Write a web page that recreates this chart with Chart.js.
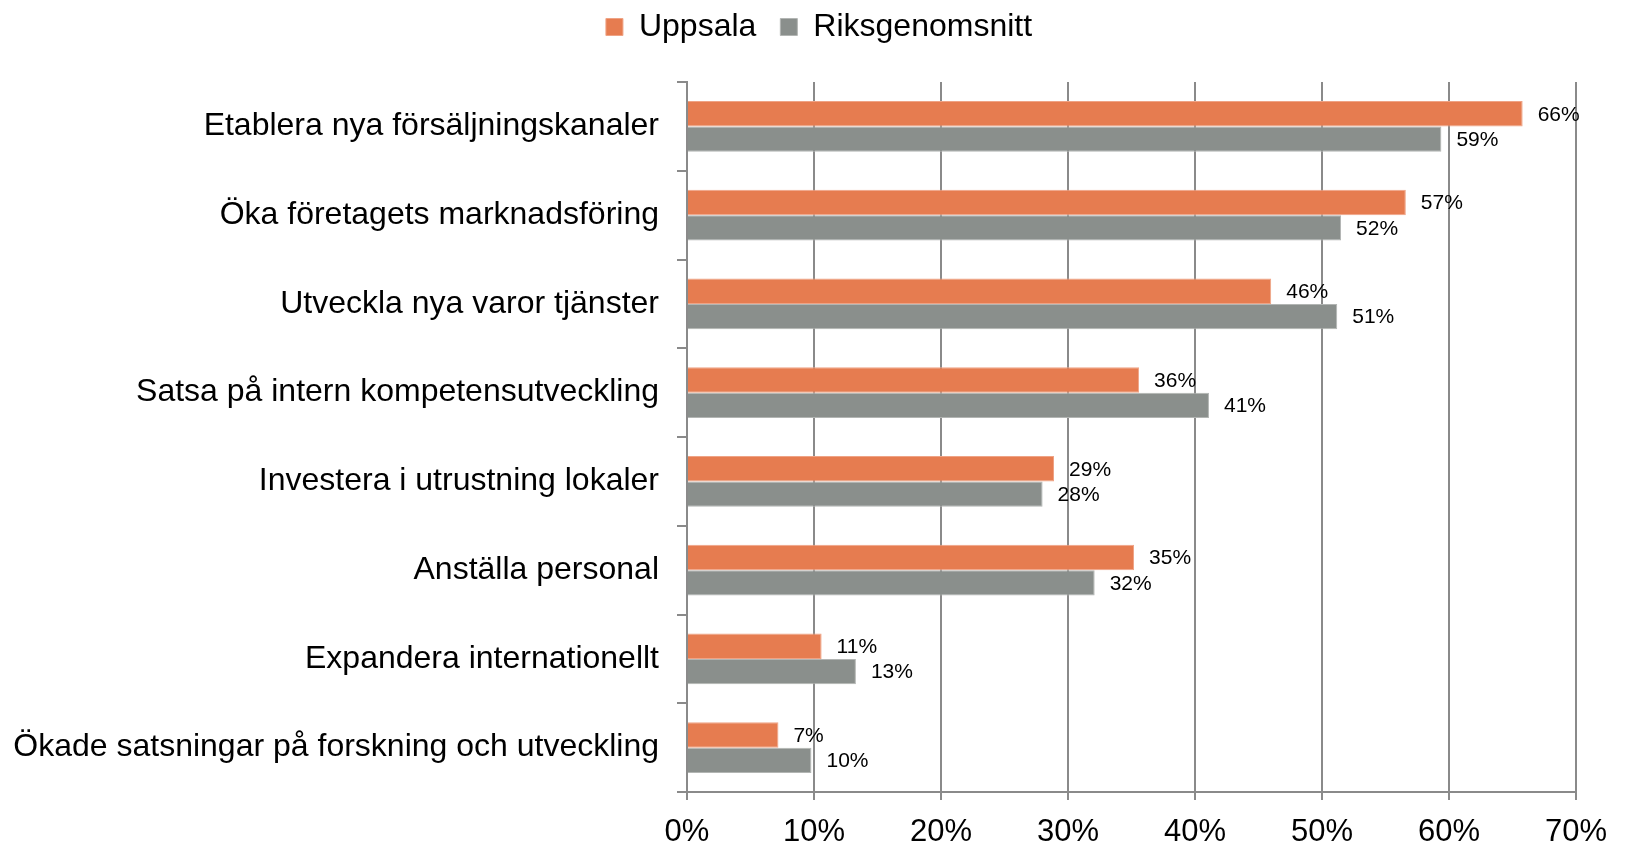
<!DOCTYPE html>
<html lang="sv">
<head>
<meta charset="utf-8">
<title>Uppsala vs riksgenomsnitt</title>
<script src="https://cdn.jsdelivr.net/npm/chart.js@4.4.1/dist/chart.umd.min.js"></script>
<style>
    html, body { margin: 0; padding: 0; background: #fff; }
    #wrap { width: 1625px; height: 843px; }
</style>
</head>
<body>
<div id="wrap"><canvas id="chart" width="1625" height="843"></canvas></div>
<script>
// ── Data ───────────────────────────────────────────────────
const categories = [
    'Etablera nya försäljningskanaler',
    'Öka företagets marknadsföring',
    'Utveckla nya varor tjänster',
    'Satsa på intern kompetensutveckling',
    'Investera i utrustning lokaler',
    'Anställa personal',
    'Expandera internationellt',
    'Ökade satsningar på forskning och utveckling'
];
const uppsala  = [65.8, 56.6, 46.0, 35.6, 28.9, 35.2, 10.6, 7.2];
const riks     = [59.4, 51.5, 51.2, 41.1, 28.0, 32.1, 13.3, 9.8];
const xTicks   = [0, 10, 20, 30, 40, 50, 60, 70];

const FONT  = "'Liberation Sans', Arial, sans-serif";
const GRID  = '#8a8a8a';

// ── Value labels at bar ends ───────────────────────────────
const barLabels = {
    id: 'barLabels',
    afterDatasetsDraw(chart) {
        const ctx = chart.ctx;
        ctx.save();
        ctx.font = '21px ' + FONT;
        ctx.fillStyle = '#000';
        ctx.textAlign = 'left';
        ctx.textBaseline = 'middle';
        chart.data.datasets.forEach((ds, i) => {
            chart.getDatasetMeta(i).data.forEach((bar, j) => {
                ctx.fillText(Math.round(ds.data[j]) + '%', bar.x + 15, bar.y + 1);
            });
        });
        ctx.restore();
    }
};

// ── Legend: sit higher, leave more room above the plot ────
const legendSpacing = {
    id: 'legendSpacing',
    beforeInit(chart) {
        const fit = chart.legend.fit;
        chart.legend.fit = function () {
            fit.call(this);
            this.height += 16;
        };
    },
    afterLayout(chart) {
        const lg = chart.legend;
        lg.top -= 13;
        lg.bottom -= 13;
        lg.left += 31;
        lg.right += 31;
    }
};

new Chart(document.getElementById('chart'), {
    type: 'bar',
    data: {
        labels: categories,
        datasets: [
            {
                label: 'Uppsala',
                data: uppsala,
                backgroundColor: '#E67C50',
                borderColor: '#EFA385',
                borderWidth: 1,
                categoryPercentage: 0.57,
                barPercentage: 1.0
            },
            {
                label: 'Riksgenomsnitt',
                data: riks,
                backgroundColor: '#8A8F8C',
                borderColor: '#B2B5B3',
                borderWidth: 1,
                categoryPercentage: 0.57,
                barPercentage: 1.0
            }
        ]
    },
    options: {
        indexAxis: 'y',
        responsive: false,
        animation: false,
        layout: { padding: { top: 0, right: 49, left: 0, bottom: 0 } },
        plugins: {
            legend: {
                position: 'top',
                labels: {
                    font: { family: FONT, size: 32 },
                    color: '#000',
                    boxWidth: 17,
                    boxHeight: 17,
                    padding: 24
                }
            },
            tooltip: { enabled: false }
        },
        scales: {
            x: {
                min: 0,
                max: 70,
                afterBuildTicks: s => { s.ticks = xTicks.map(v => ({ value: v })); },
                afterFit: s => { s.height = 51; },
                ticks: {
                    callback: v => v + '%',
                    font: { family: FONT, size: 31 },
                    color: '#000',
                    padding: 14,
                    maxRotation: 0
                },
                grid: { color: GRID, lineWidth: 2, tickLength: 8 },
                border: { color: GRID, width: 2 }
            },
            y: {
                afterFit: s => { s.width = 687; },
                ticks: {
                    font: { family: FONT, size: 32 },
                    color: '#000',
                    padding: 18
                },
                grid: { offset: true, drawOnChartArea: false, color: GRID, lineWidth: 2, tickLength: 10 },
                border: { color: GRID, width: 2 }
            }
        }
    },
    plugins: [barLabels, legendSpacing]
});
</script>
</body>
</html>
